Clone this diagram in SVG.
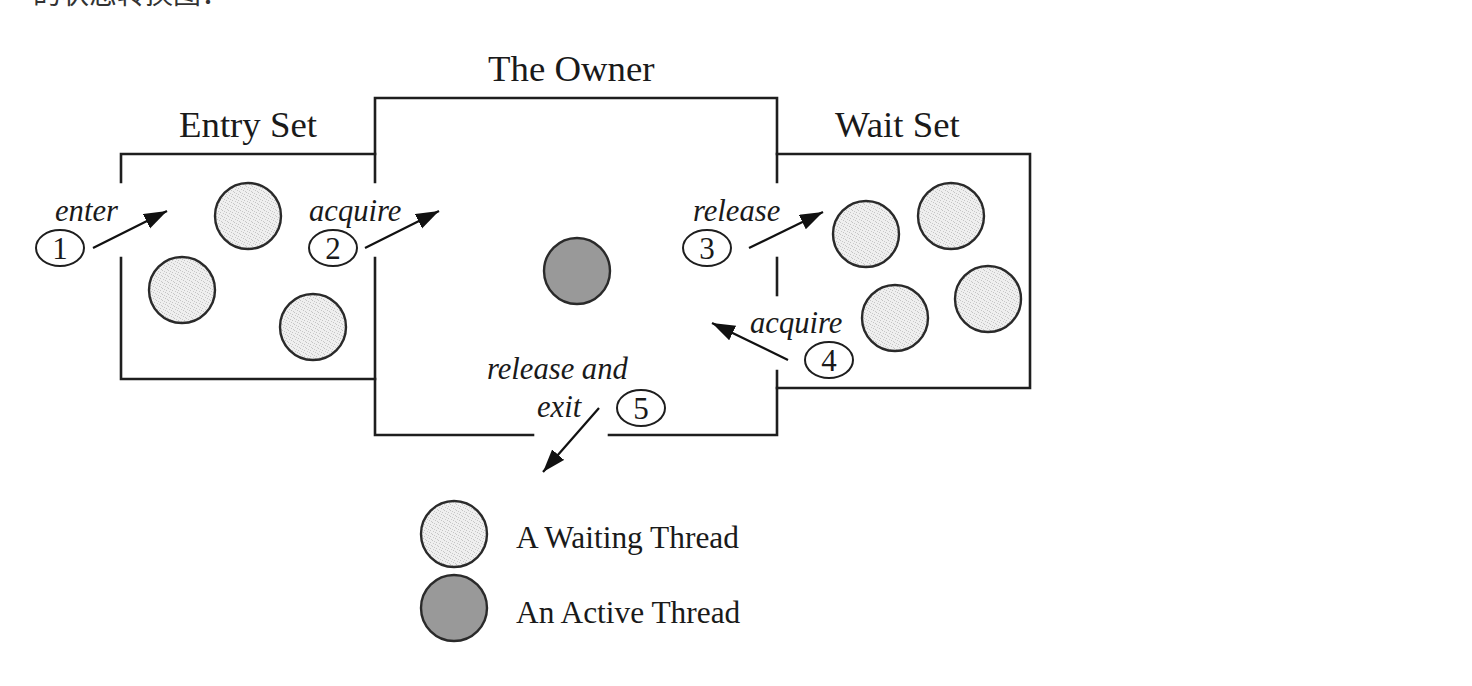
<svg xmlns="http://www.w3.org/2000/svg" width="1472" height="686" viewBox="0 0 1472 686">
  <style>
    .box { fill: none; stroke: #1e1e1e; stroke-width: 2.6; stroke-linecap: square; }
    .wait { fill: url(#stipple); stroke: #2a2a2a; stroke-width: 2.4; }
    .active { fill: #999999; stroke: #2a2a2a; stroke-width: 2.4; }
    .num { fill: #ffffff; stroke: #1e1e1e; stroke-width: 2; }
    .title { font-family: "Liberation Serif", "Times New Roman", serif; font-size: 36.8px; fill: #1a1a1a; }
    .lbl { font-family: "Liberation Serif", "Times New Roman", serif; font-size: 30.6px; font-style: italic; fill: #1a1a1a; }
    .digit { font-family: "Liberation Serif", "Times New Roman", serif; font-size: 31px; fill: #1a1a1a; text-anchor: middle; }
    .legend { font-family: "Liberation Serif", "Times New Roman", serif; font-size: 31.4px; fill: #1a1a1a; }
    .arrow { fill: none; stroke: #111111; stroke-width: 2.2; marker-end: url(#head); }
    .cn { font-family: "Noto Sans CJK SC", "Noto Sans", sans-serif; font-size: 28px; fill: #333333; }
  </style>
  <defs>
    <pattern id="stipple" width="6" height="6" patternUnits="userSpaceOnUse">
      <rect width="6" height="6" fill="#efefef"/>
      <rect x="0" y="0" width="1" height="1" fill="#c4c4c4"/>
      <rect x="2" y="1" width="1" height="1" fill="#c8c8c8"/>
      <rect x="4" y="2" width="1" height="1" fill="#c4c4c4"/>
      <rect x="1" y="3" width="1" height="1" fill="#cacaca"/>
      <rect x="3" y="4" width="1" height="1" fill="#c4c4c4"/>
      <rect x="5" y="5" width="1" height="1" fill="#c8c8c8"/>
    </pattern>
    <marker id="head" markerUnits="userSpaceOnUse" markerWidth="26" markerHeight="18" refX="23" refY="8" orient="auto">
      <path d="M0,0 L23,8 L0,16 Z" fill="#111111"/>
    </marker>
  </defs>

  <rect width="1472" height="686" fill="#ffffff"/>

  <text class="cn" x="33" y="4">的状态转换图：</text>

  <g id="entry-set">
    <path class="box" d="M121,182 L121,154 L375,154"/>
    <path class="box" d="M121,258 L121,379 L375,379"/>
    <text class="title" x="179" y="137">Entry Set</text>
    <circle class="wait" cx="248" cy="216" r="33"/>
    <circle class="wait" cx="182" cy="290" r="33"/>
    <circle class="wait" cx="313" cy="327" r="33"/>
  </g>

  <g id="owner">
    <path class="box" d="M375,182 L375,98 L777,98 L777,182"/>
    <path class="box" d="M375,258 L375,435 L533,435"/>
    <path class="box" d="M609,435 L777,435 L777,371"/>
    <path class="box" d="M777,258 L777,295"/>
    <text class="title" x="488" y="81">The Owner</text>
    <circle class="active" cx="577" cy="271" r="33"/>
  </g>

  <g id="wait-set">
    <path class="box" d="M777,154 L1030,154 L1030,388 L777,388"/>
    <text class="title" x="835" y="137">Wait Set</text>
    <circle class="wait" cx="866" cy="234" r="33"/>
    <circle class="wait" cx="951" cy="216" r="33"/>
    <circle class="wait" cx="895" cy="318" r="33"/>
    <circle class="wait" cx="988" cy="299" r="33"/>
  </g>

  <g id="connectors">
    <g id="t1">
      <line class="arrow" x1="93" y1="248" x2="167" y2="211"/>
      <ellipse class="num" cx="60" cy="248" rx="24" ry="18"/>
      <text class="digit" x="60" y="259">1</text>
      <text class="lbl" x="55" y="221">enter</text>
    </g>
    <g id="t2">
      <line class="arrow" x1="365" y1="248" x2="439" y2="211"/>
      <ellipse class="num" cx="333" cy="248" rx="24" ry="18"/>
      <text class="digit" x="333" y="259">2</text>
      <text class="lbl" x="309" y="221">acquire</text>
    </g>
    <g id="t3">
      <line class="arrow" x1="749" y1="248" x2="823" y2="212"/>
      <ellipse class="num" cx="707" cy="248" rx="24" ry="18"/>
      <text class="digit" x="707" y="259">3</text>
      <text class="lbl" x="693" y="221">release</text>
    </g>
    <g id="t4">
      <line class="arrow" x1="788" y1="360" x2="712" y2="323"/>
      <ellipse class="num" cx="829" cy="360" rx="24" ry="18"/>
      <text class="digit" x="829" y="371">4</text>
      <text class="lbl" x="750" y="333">acquire</text>
    </g>
    <g id="t5">
      <line class="arrow" x1="599" y1="408" x2="543" y2="472"/>
      <ellipse class="num" cx="641" cy="408" rx="24" ry="18"/>
      <text class="digit" x="641" y="419">5</text>
      <text class="lbl" x="487" y="379">release and</text>
      <text class="lbl" x="537" y="417">exit</text>
    </g>
  </g>

  <g id="legend">
    <circle class="wait" cx="454" cy="534" r="33"/>
    <text class="legend" x="516" y="548">A Waiting Thread</text>
    <circle class="active" cx="454" cy="608" r="33"/>
    <text class="legend" x="516" y="623">An Active Thread</text>
  </g>
</svg>
